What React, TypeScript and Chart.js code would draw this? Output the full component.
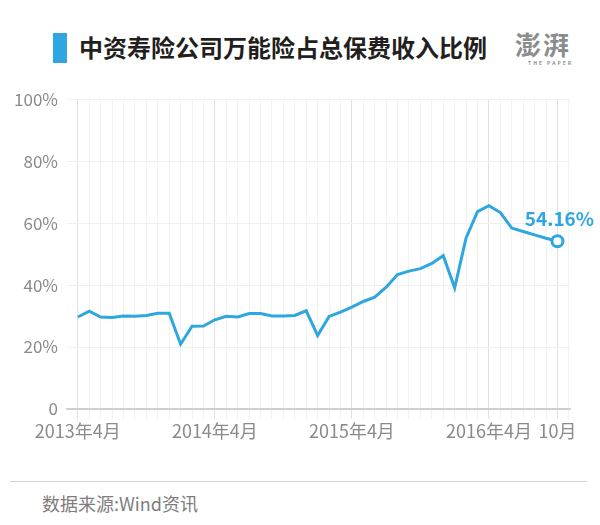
import React, { useEffect, useRef } from "react";
import { Chart, registerables } from "chart.js";

Chart.register(...registerables);

const months = [
  "2013-04", "2013-05", "2013-06", "2013-07", "2013-08", "2013-09", "2013-10", "2013-11", "2013-12",
  "2014-01", "2014-02", "2014-03", "2014-04", "2014-05", "2014-06", "2014-07", "2014-08", "2014-09",
  "2014-10", "2014-11", "2014-12", "2015-01", "2015-02", "2015-03", "2015-04", "2015-05", "2015-06",
  "2015-07", "2015-08", "2015-09", "2015-10", "2015-11", "2015-12", "2016-01", "2016-02", "2016-03",
  "2016-04", "2016-05", "2016-06", "2016-07", "2016-08", "2016-09", "2016-10",
];

const ratio = [
  29.7, 31.6, 29.7, 29.5, 30.0, 29.9, 30.2, 30.9, 30.9,
  20.9, 26.7, 26.8, 28.8, 29.9, 29.7, 30.8, 30.8, 30.0,
  30.0, 30.2, 31.7, 23.7, 29.9, 31.3, 32.9, 34.7, 36.1,
  39.3, 43.4, 44.5, 45.3, 47.0, 49.5, 39.1, 55.2, 63.7,
  65.6, 63.4, 58.4, 57.3, 56.2, 55.1, 54.16,
];

const xTickIndex = [0, 12, 24, 36, 42];
const xTickLabels = ["2013年4月", "2014年4月", "2015年4月", "2016年4月", "10月"];
const yTicks = [0, 20, 40, 60, 80, 100];

const endLabel = "54.16%";
const title = "中资寿险公司万能险占总保费收入比例";
const source = "数据来源:Wind资讯";

const BLUE = "#2ea7e0";
const FONT = "'Noto Sans CJK SC', 'Noto Sans', sans-serif";

export default function App() {
  const ref = useRef<HTMLCanvasElement | null>(null);

  useEffect(() => {
    document.body.style.margin = "0";
    const canvas = ref.current;
    if (!canvas) return;
    Chart.defaults.font.family = FONT;

    const endLabelPlugin = {
      id: "endLabel",
      afterDatasetsDraw(chart: any) {
        const meta = chart.getDatasetMeta(0);
        const pt = meta.data[meta.data.length - 1];
        if (!pt) return;
        const c = chart.ctx;
        c.save();
        c.fillStyle = BLUE;
        c.font = `600 19px ${FONT}`;
        c.textAlign = "center";
        c.textBaseline = "middle";
        c.fillText(endLabel, pt.x + 2, pt.y - 22);
        c.restore();
      },
    };

    const n = ratio.length;
    const chart = new Chart(canvas, {
      type: "line",
      data: {
        labels: months,
        datasets: [
          {
            data: ratio.map((v, i) => ({ x: i, y: v })),
            borderColor: BLUE,
            borderWidth: 3,
            tension: 0,
            fill: false,
            clip: false as any,
            pointRadius: ratio.map((_, i) => (i === n - 1 ? 5.5 : 0)),
            pointHoverRadius: 0,
            pointBackgroundColor: "#ffffff",
            pointBorderColor: BLUE,
            pointBorderWidth: 3,
          },
        ],
      },
      options: {
        animation: false,
        responsive: false,
        events: [],
        layout: { padding: { top: 18, right: 30, left: 0, bottom: 0 } },
        plugins: {
          legend: { display: false },
          tooltip: { enabled: false },
          title: { display: false },
        },
        scales: {
          x: {
            type: "linear",
            min: -0.95,
            max: 43.1,
            afterFit: (s: any) => {
              s.height = 41;
            },
            ticks: {
              stepSize: 1,
              autoSkip: false,
              maxRotation: 0,
              includeBounds: false,
              padding: 1,
              color: "#8a8a8a",
              font: { size: 18, family: FONT },
              callback: (v: any) => {
                const k = xTickIndex.indexOf(Number(v));
                return k >= 0 ? xTickLabels[k] : "";
              },
            },
            grid: {
              tickLength: 10,
              lineWidth: 1,
              color: (ctx: any) =>
                ctx.tick && xTickIndex.indexOf(ctx.tick.value) >= 0 ? "#e2e2e2" : "#f2f2f2",
            },
            border: { display: true, color: "#cfcfcf", width: 1.5 },
          },
          y: {
            min: 0,
            max: 100,
            afterFit: (s: any) => {
              s.width = 67;
            },
            afterBuildTicks: (s: any) => {
              s.ticks = yTicks.map((v) => ({ value: v }));
            },
            ticks: {
              padding: 9,
              color: "#8a8a8a",
              font: { size: 17, family: FONT },
              callback: (v: any) => (Number(v) === 0 ? "0" : v + "%"),
            },
            grid: {
              drawTicks: false,
              color: (ctx: any) => (ctx.tick && ctx.tick.value === 0 ? "#cfcfcf" : "#f0f0f0"),
            },
            border: { display: false },
          },
        },
      },
      plugins: [endLabelPlugin],
    });
    return () => chart.destroy();
  }, []);

  return (
    <div
      style={{
        position: "absolute",
        left: 0,
        top: 0,
        width: 600,
        height: 525,
        background: "#ffffff",
        fontFamily: FONT,
        overflow: "hidden",
      }}
    >
      <div
        style={{
          position: "absolute",
          left: 53,
          top: 33,
          width: 14,
          height: 30,
          background: BLUE,
        }}
      />
      <div
        style={{
          position: "absolute",
          left: 79,
          top: 31,
          fontSize: 24,
          lineHeight: "32px",
          fontWeight: 700,
          color: "#231f20",
          whiteSpace: "nowrap",
        }}
      >
        {title}
      </div>
      <div
        style={{
          position: "absolute",
          left: 513,
          top: 28,
          width: 60,
          textAlign: "center",
          color: "#8c8c8c",
        }}
      >
        <div style={{ fontSize: 26, lineHeight: "32px", fontWeight: 700, letterSpacing: 2 }}>澎湃</div>
        <div
          style={{
            fontSize: 10,
            lineHeight: "10px",
            transform: "scale(0.5)",
            transformOrigin: "center top",
            letterSpacing: 4,
            whiteSpace: "nowrap",
            fontWeight: 700,
          }}
        >
          THE PAPER
        </div>
      </div>
      <canvas
        ref={ref}
        width={600}
        height={370}
        style={{ position: "absolute", left: 0, top: 80, width: 600, height: 370 }}
      />
      <div
        style={{
          position: "absolute",
          left: 10,
          top: 481,
          width: 577,
          height: 0,
          borderTop: "1.5px solid #d4d4d4",
        }}
      />
      <div
        style={{
          position: "absolute",
          left: 42,
          top: 489,
          fontSize: 18,
          lineHeight: "28px",
          color: "#7d7d7d",
          whiteSpace: "nowrap",
        }}
      >
        {source}
      </div>
    </div>
  );
}
